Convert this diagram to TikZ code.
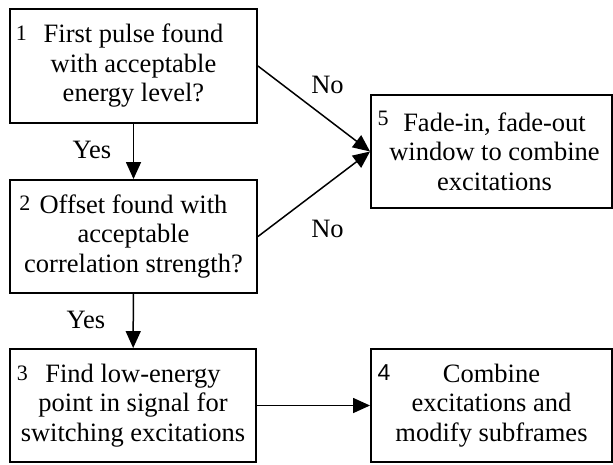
\documentclass[tikz,border=0pt]{standalone}
\usepackage{fontspec}
\setmainfont{Liberation Serif}
\newfontfamily\numsans{Liberation Sans}
\usetikzlibrary{arrows.meta}
\tikzset{
  box/.style={draw=black, line width=1.9pt, rectangle, inner sep=0pt,
    minimum width=#1, minimum height=113pt, align=center,
    font=\fontsize{26.5}{29.5}\selectfont},
  box/.default=247pt,
  arr/.style={line width=1.5pt, -{Triangle[length=17pt,width=15pt]}},
  lbl/.style={inner sep=0pt, anchor=base, font=\fontsize{26.5}{29.5}\selectfont},
  num/.style={inner sep=0pt, anchor=base west, font=\fontsize{22}{24}\selectfont},
}
\begin{document}
\begin{tikzpicture}[x=1pt,y=-1pt]
\useasboundingbox (0,0) rectangle (613,464);
\node[box, minimum height=114pt] (b1) at (133.5,66) {First pulse found\\with acceptable\\energy level?};
\node[box] (b2) at (133.5,236.5) {Offset found with\\acceptable\\correlation strength?};
\node[box=246pt] (b3) at (133,405.5) {Find low-energy\\point in signal for\\switching excitations};
\node[box=241pt] (b4) at (491.5,405.5) {Combine\\excitations and\\modify subframes};
\node[box=241pt] (b5) at (491.5,151.5) {\hspace*{6pt}Fade-in, fade-out\\\hspace*{6pt}window to combine\\\hspace*{6pt}excitations};
\node[num] (n1) at (15.6,40) {1};
\node[num] (n2) at (19.3,210) {2};
\node[num] (n3) at (16.7,380) {3};
\node[num, font=\numsans\fontsize{23}{25}\selectfont] (n4) at (377.4,380) {4};
\node[num] (n5) at (377.5,125) {5};
\draw[arr] (b1) -- (b2);
\draw[arr] (b2) -- (b3);
\draw[arr] (b3) -- (b4);
\draw[arr] (b1.east) -- (b5.west);
\draw[arr] (b2.east) -- (b5.west);
\node[lbl] (y1) at (92,158) {Yes};
\node[lbl] (y2) at (86,328) {Yes};
\node[lbl] (no1) at (327.5,93) {No};
\node[lbl] (no2) at (327.5,237) {No};
\end{tikzpicture}
\end{document}
